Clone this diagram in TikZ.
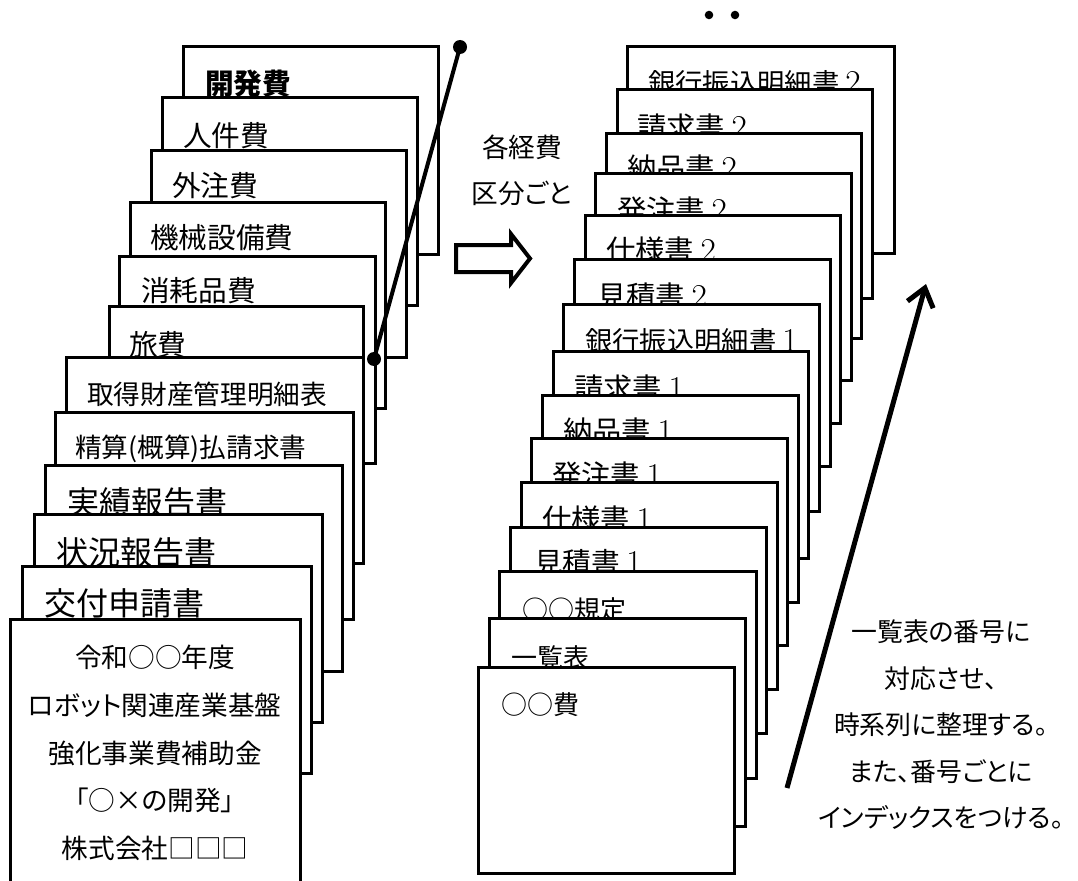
\documentclass[tikz,border=0pt]{standalone}
\usepackage{fontspec}
\newfontfamily\jp{Noto Sans CJK JP}[RawFeature=+palt]
\usetikzlibrary{arrows.meta}
\newcommand\fs[1]{\jp\fontsize{#1}{#1}\selectfont}
\newcommand\fsl[2]{\jp\fontsize{#1}{#2}\selectfont}
\newcommand\dg[1]{{\rmfamily\fontsize{25}{25}\selectfont #1}}
% name, left, top, right, bottom, text x, text y, font, text
\newcommand\docpage[9]{%
  \node[docbox, minimum width={(#4-#2)*0.75pt}, minimum height={(#5-#3)*0.75pt}] (#1) at (#2,#3) {};
  \node[doclbl, font={#8}] (#1t) at (#6,#7) {#9};}
\begin{document}
\begin{tikzpicture}[x=0.75pt, y=-0.75pt,
  docbox/.style={draw, fill=white, line width=2.25pt, inner sep=0pt, outer sep=0pt, anchor=north west},
  doclbl/.style={anchor=west, inner sep=0pt, outer sep=0pt},
  note/.style={align=center, inner sep=0pt, outer sep=0pt},
  pointer/.style={line width=3pt},
  bigarrow/.style={line width=3.75pt, -{Straight Barb[length=13pt,width=20pt]}},
  hollow/.style={line width=3pt, line join=miter}]
\path[use as bounding box] (0,0) rectangle (1078,881);
\clip (0,0) rectangle (1078,881);

% ---- left stack (back to front)
\docpage{L1}{183}{47}{438}{254}{205}{84}{\fs{21.5}\bfseries}{開発費}
\docpage{L2}{162}{98}{417}{305}{183}{136}{\fs{21.5}}{人件費}
\docpage{L3}{151}{150}{406}{357}{172}{186}{\fs{21.5}}{外注費}
\docpage{L4}{130}{202}{385}{408}{150}{238}{\fs{21.5}}{機械設備費}
\docpage{L5}{119}{256}{375}{463}{141}{291}{\fs{21.5}}{消耗品費}
\docpage{L6}{109}{306}{363}{513}{129}{345}{\fs{21.5}}{旅費}
\docpage{L7}{66}{357}{363}{563}{87}{394}{\fs{20}}{取得財産管理明細表}
\docpage{L8}{55}{412}{353}{619}{75}{449}{\fs{20}}{精算(概算)払請求書}
\docpage{L9}{45}{465}{342}{671}{67}{502}{\fs{24}}{実績報告書}
\docpage{L10}{34}{514}{322}{722}{56}{552}{\fs{24}}{状況報告書}
\docpage{L11}{22}{566}{311}{773}{44}{603}{\fs{24}}{交付申請書}
\node[docbox, minimum width={290*0.75pt}, minimum height={290*0.75pt}] (L12) at (10,619) {};
\node[note, font={\fsl{20}{35.8}}] (L12t) at (155,753)
  {令和○○年度\\ロボット関連産業基盤\\強化事業費補助金\\「○×の開発」\\株式会社□□□};

% ---- pointer line with dots
\coordinate (p1) at (460,47);
\coordinate (p2) at (374,359);
\draw[pointer] (p1) -- (p2);
\fill (p1) circle[radius=5.25pt];
\fill (p2) circle[radius=5.25pt];

% ---- middle label and hollow arrow
\node[note, font={\fsl{20}{34.5}}] (mid) at (522,170) {各経費\\区分ごと};
\draw[hollow] (456,245) -- (511,245) -- (511,234) -- (530,258.5) -- (511,283) -- (511,272) -- (456,272) -- cycle;

% ---- dots at the top
\coordinate (d1) at (709,15);
\coordinate (d2) at (735,15);
\fill (d1) circle[radius=3.2pt];
\fill (d2) circle[radius=3.2pt];

% ---- right stack (back to front)
\docpage{R1}{627}{47}{894}{253}{648}{83}{\fs{20.5}}{銀行振込明細書 \dg{2}}
\docpage{R2}{617}{90}{872}{298}{637}{127}{\fs{22}}{請求書 \dg{2}}
\docpage{R3}{606}{133}{861}{338}{627}{168}{\fs{22}}{納品書 \dg{2}}
\docpage{R4}{595}{173}{851}{380}{617}{210}{\fs{22}}{発注書 \dg{2}}
\docpage{R5}{585}{215}{840}{423}{606}{250}{\fs{22}}{仕様書 \dg{2}}
\docpage{R6}{574}{259}{830}{466}{597}{296}{\fs{22}}{見積書 \dg{2}}
\docpage{R7}{563}{304}{819}{511}{585}{341}{\fs{20.5}}{銀行振込明細書 \dg{1}}
\docpage{R8}{553}{351}{808}{558}{574}{388}{\fs{22}}{請求書 \dg{1}}
\docpage{R9}{542}{395}{798}{602}{563}{431}{\fs{22}}{納品書 \dg{1}}
\docpage{R10}{531}{438}{787}{645}{552}{475}{\fs{22}}{発注書 \dg{1}}
\docpage{R11}{521}{482}{777}{689}{542}{519}{\fs{22}}{仕様書 \dg{1}}
\docpage{R12}{510}{527}{766}{733}{534}{563}{\fs{21.5}}{見積書 \dg{1}}
\docpage{R13}{499}{571}{756}{778}{522}{610}{\fs{19.5}}{○○規定}
\docpage{R14}{489}{618}{745}{826}{511}{658}{\fs{19.5}}{一覧表}
\docpage{R15}{478}{667}{734}{873}{501}{705}{\fs{19.5}}{○○費}

% ---- big arrow and note
\coordinate (a1) at (787,788);
\coordinate (a2) at (926,284);
\draw[bigarrow] (a1) -- (a2);
\node[note, font={\fsl{19.4}{34.9}}] (desc) at (941,725)
  {一覧表の番号に\\対応させ、\\時系列に整理する。\\また、番号ごとに\\インデックスをつける。};
\end{tikzpicture}
\end{document}
